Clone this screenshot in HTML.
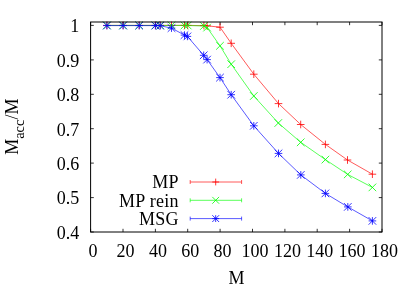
<!DOCTYPE html><html><head><meta charset="utf-8"><style>html,body{margin:0;padding:0;background:#fff}svg{display:block;will-change:transform;transform:translateZ(0)}text{font-family:"Liberation Serif",serif;font-size:18px;fill:#000}</style></head><body>
<svg width="415" height="291" viewBox="0 0 415 291">
<rect width="415" height="291" fill="#fff"/>
<path d="M90.6 232.0V228.8M90.6 22.0V25.2M123.0 232.0V228.8M123.0 22.0V25.2M155.4 232.0V228.8M155.4 22.0V25.2M187.7 232.0V228.8M187.7 22.0V25.2M220.1 232.0V228.8M220.1 22.0V25.2M252.5 232.0V228.8M252.5 22.0V25.2M284.9 232.0V228.8M284.9 22.0V25.2M317.2 232.0V228.8M317.2 22.0V25.2M349.6 232.0V228.8M349.6 22.0V25.2M382.0 232.0V228.8M382.0 22.0V25.2M90.6 25.4H93.8M382.0 25.4H378.8M90.6 59.9H93.8M382.0 59.9H378.8M90.6 94.3H93.8M382.0 94.3H378.8M90.6 128.7H93.8M382.0 128.7H378.8M90.6 163.1H93.8M382.0 163.1H378.8M90.6 197.6H93.8M382.0 197.6H378.8M90.6 232.0H93.8M382.0 232.0H378.8" stroke="#000" stroke-width="0.8" fill="none"/>
<path d="M106.9 25.4L123.1 25.4L139.2 25.4L155.4 25.4L160.2 25.4L171.5 25.4L184.5 25.4L187.7 25.4L203.9 25.6L207.1 25.8L220.0 27.2L231.2 43.3L253.8 74.2L278.5 103.6L300.7 124.5L325.4 144.4L347.5 160.0L372.4 174.2" fill="none" stroke="#f00" stroke-width="0.65"/><path d="M103.1 25.4H110.7M106.9 21.6V29.2M119.3 25.4H126.9M123.1 21.6V29.2M135.4 25.4H143.0M139.2 21.6V29.2M151.6 25.4H159.2M155.4 21.6V29.2M156.4 25.4H164.0M160.2 21.6V29.2M167.7 25.4H175.3M171.5 21.6V29.2M180.7 25.4H188.3M184.5 21.6V29.2M183.9 25.4H191.5M187.7 21.6V29.2M200.1 25.6H207.7M203.9 21.8V29.4M203.3 25.8H210.9M207.1 22.0V29.6M216.2 27.2H223.8M220.0 23.4V31.0M227.4 43.3H235.0M231.2 39.5V47.1M250.0 74.2H257.6M253.8 70.4V78.0M274.7 103.6H282.3M278.5 99.8V107.4M296.9 124.5H304.5M300.7 120.7V128.3M321.6 144.4H329.2M325.4 140.6V148.2M343.7 160.0H351.3M347.5 156.2V163.8M368.6 174.2H376.2M372.4 170.4V178.0" fill="none" stroke="#f00" stroke-width="0.8"/>
<path d="M106.9 25.4L123.1 25.4L139.2 25.4L155.4 25.4L160.2 25.4L171.5 25.4L184.5 25.4L187.7 25.5L203.9 26.0L207.1 27.6L220.0 45.8L231.2 64.2L253.8 96.0L278.3 123.0L300.7 142.3L325.4 159.6L347.7 174.4L372.4 187.4" fill="none" stroke="#0f0" stroke-width="0.65"/><path d="M103.1 21.6L110.7 29.2M103.1 29.2L110.7 21.6M119.3 21.6L126.9 29.2M119.3 29.2L126.9 21.6M135.4 21.6L143.0 29.2M135.4 29.2L143.0 21.6M151.6 21.6L159.2 29.2M151.6 29.2L159.2 21.6M156.4 21.6L164.0 29.2M156.4 29.2L164.0 21.6M167.7 21.6L175.3 29.2M167.7 29.2L175.3 21.6M180.7 21.6L188.3 29.2M180.7 29.2L188.3 21.6M183.9 21.7L191.5 29.3M183.9 29.3L191.5 21.7M200.1 22.2L207.7 29.8M200.1 29.8L207.7 22.2M203.3 23.8L210.9 31.4M203.3 31.4L210.9 23.8M216.2 42.0L223.8 49.6M216.2 49.6L223.8 42.0M227.4 60.4L235.0 68.0M227.4 68.0L235.0 60.4M250.0 92.2L257.6 99.8M250.0 99.8L257.6 92.2M274.5 119.2L282.1 126.8M274.5 126.8L282.1 119.2M296.9 138.5L304.5 146.1M296.9 146.1L304.5 138.5M321.6 155.8L329.2 163.4M321.6 163.4L329.2 155.8M343.9 170.6L351.5 178.2M343.9 178.2L351.5 170.6M368.6 183.6L376.2 191.2M368.6 191.2L376.2 183.6" fill="none" stroke="#0f0" stroke-width="0.8"/>
<path d="M106.9 25.6L123.1 25.6L139.2 25.6L155.4 25.6L160.2 25.7L171.5 28.1L184.5 35.1L187.4 36.4L203.7 55.3L207.1 59.6L220.0 77.6L231.2 94.7L253.8 125.8L278.5 153.4L300.8 174.9L325.4 193.4L347.8 206.9L372.4 220.9" fill="none" stroke="#00f" stroke-width="0.65"/><path d="M103.1 25.6H110.7M106.9 21.8V29.4M103.1 21.8L110.7 29.4M103.1 29.4L110.7 21.8M119.3 25.6H126.9M123.1 21.8V29.4M119.3 21.8L126.9 29.4M119.3 29.4L126.9 21.8M135.4 25.6H143.0M139.2 21.8V29.4M135.4 21.8L143.0 29.4M135.4 29.4L143.0 21.8M151.6 25.6H159.2M155.4 21.8V29.4M151.6 21.8L159.2 29.4M151.6 29.4L159.2 21.8M156.4 25.7H164.0M160.2 21.9V29.5M156.4 21.9L164.0 29.5M156.4 29.5L164.0 21.9M167.7 28.1H175.3M171.5 24.3V31.9M167.7 24.3L175.3 31.9M167.7 31.9L175.3 24.3M180.7 35.1H188.3M184.5 31.3V38.9M180.7 31.3L188.3 38.9M180.7 38.9L188.3 31.3M183.6 36.4H191.2M187.4 32.6V40.2M183.6 32.6L191.2 40.2M183.6 40.2L191.2 32.6M199.9 55.3H207.5M203.7 51.5V59.1M199.9 51.5L207.5 59.1M199.9 59.1L207.5 51.5M203.3 59.6H210.9M207.1 55.8V63.4M203.3 55.8L210.9 63.4M203.3 63.4L210.9 55.8M216.2 77.6H223.8M220.0 73.8V81.4M216.2 73.8L223.8 81.4M216.2 81.4L223.8 73.8M227.4 94.7H235.0M231.2 90.9V98.5M227.4 90.9L235.0 98.5M227.4 98.5L235.0 90.9M250.0 125.8H257.6M253.8 122.0V129.6M250.0 122.0L257.6 129.6M250.0 129.6L257.6 122.0M274.7 153.4H282.3M278.5 149.6V157.2M274.7 149.6L282.3 157.2M274.7 157.2L282.3 149.6M297.0 174.9H304.6M300.8 171.1V178.7M297.0 171.1L304.6 178.7M297.0 178.7L304.6 171.1M321.6 193.4H329.2M325.4 189.6V197.2M321.6 189.6L329.2 197.2M321.6 197.2L329.2 189.6M344.0 206.9H351.6M347.8 203.1V210.7M344.0 203.1L351.6 210.7M344.0 210.7L351.6 203.1M368.6 220.9H376.2M372.4 217.1V224.7M368.6 217.1L376.2 224.7M368.6 224.7L376.2 217.1" fill="none" stroke="#00f" stroke-width="0.8"/>
<path d="M190.2 182.0H241.6M190.2 180.0V184.0M241.6 180.0V184.0" stroke="#f00" stroke-width="0.65" fill="none"/><path d="M212.3 182.0H219.1M215.7 178.6V185.4" stroke="#f00" stroke-width="0.8" fill="none"/>
<path d="M190.2 200.3H241.6M190.2 198.3V202.3M241.6 198.3V202.3" stroke="#0f0" stroke-width="0.65" fill="none"/><path d="M212.3 196.9L219.1 203.7M212.3 203.7L219.1 196.9" stroke="#0f0" stroke-width="0.8" fill="none"/>
<path d="M190.2 218.6H241.6M190.2 216.6V220.6M241.6 216.6V220.6" stroke="#00f" stroke-width="0.65" fill="none"/><path d="M212.3 218.6H219.1M215.7 215.2V222.0M212.3 215.2L219.1 222.0M212.3 222.0L219.1 215.2" stroke="#00f" stroke-width="0.8" fill="none"/>
<rect x="90.6" y="22.0" width="291.4" height="210.0" fill="none" stroke="#000" stroke-width="1"/>
<text x="79.2" y="32.2" text-anchor="end">1</text>
<text x="79.2" y="66.7" text-anchor="end">0.9</text>
<text x="79.2" y="101.1" text-anchor="end">0.8</text>
<text x="79.2" y="135.5" text-anchor="end">0.7</text>
<text x="79.2" y="169.9" text-anchor="end">0.6</text>
<text x="79.2" y="204.4" text-anchor="end">0.5</text>
<text x="79.2" y="238.8" text-anchor="end">0.4</text>
<text x="93.1" y="256.9" text-anchor="middle">0</text>
<text x="125.5" y="256.9" text-anchor="middle">20</text>
<text x="157.9" y="256.9" text-anchor="middle">40</text>
<text x="190.2" y="256.9" text-anchor="middle">60</text>
<text x="222.6" y="256.9" text-anchor="middle">80</text>
<text x="255.0" y="256.9" text-anchor="middle">100</text>
<text x="287.4" y="256.9" text-anchor="middle">120</text>
<text x="319.7" y="256.9" text-anchor="middle">140</text>
<text x="352.1" y="256.9" text-anchor="middle">160</text>
<text x="384.5" y="256.9" text-anchor="middle">180</text>
<text x="236.6" y="283.9" text-anchor="middle">M</text>
<text x="178.7" y="188.4" text-anchor="end" letter-spacing="0.25">MP</text>
<text x="178.7" y="206.8" text-anchor="end" letter-spacing="0.25">MP rein</text>
<text x="178.7" y="225.1" text-anchor="end" letter-spacing="0.25">MSG</text>
<text transform="translate(18,154.8) rotate(-90)">M<tspan font-size="14.4px" dy="6">acc</tspan><tspan dy="-6">/M</tspan></text>
</svg></body></html>
